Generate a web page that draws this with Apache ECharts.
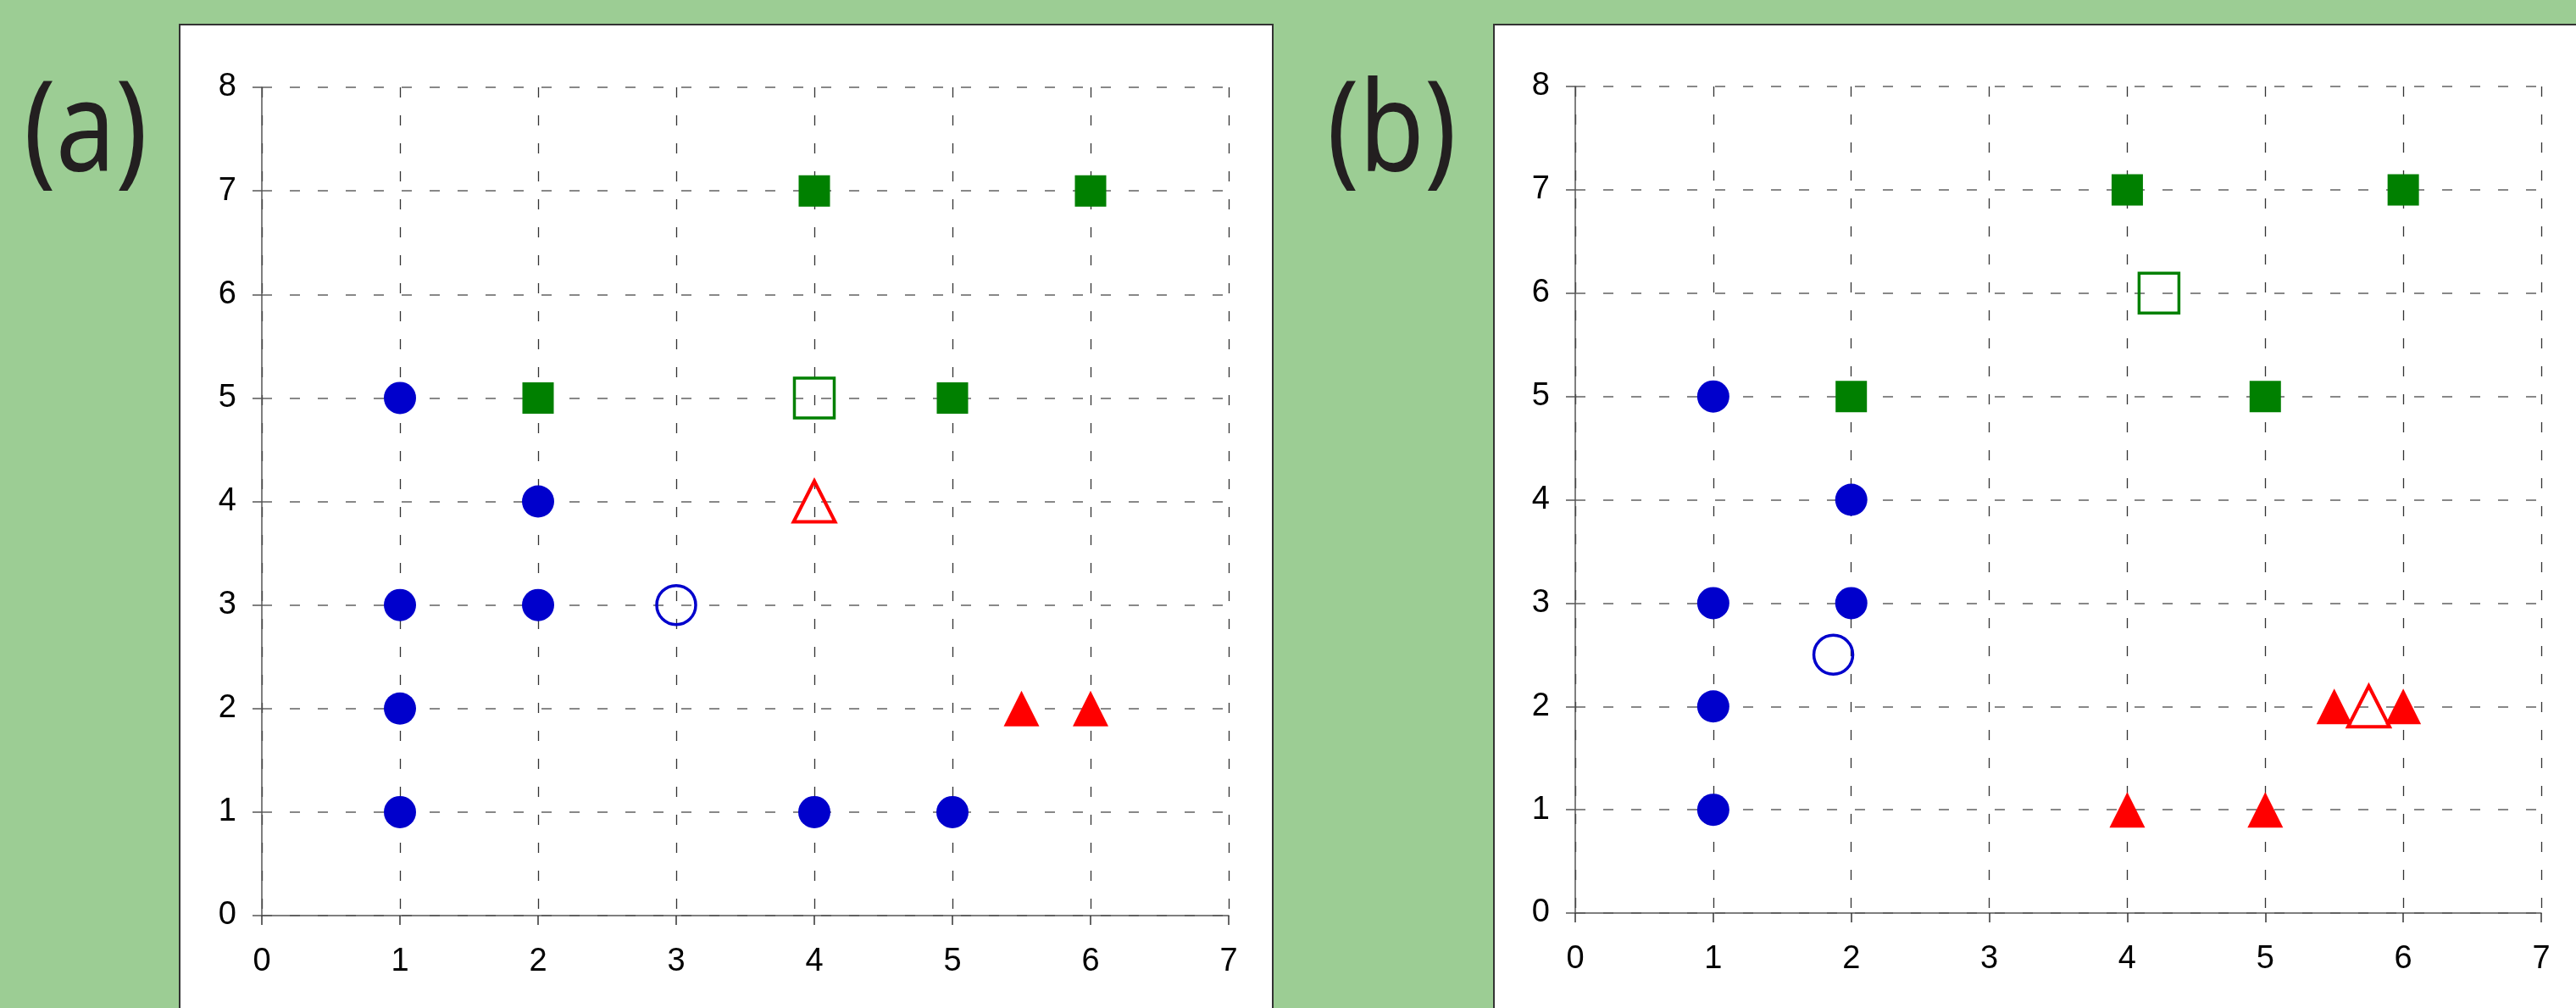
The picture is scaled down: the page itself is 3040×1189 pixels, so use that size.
<!DOCTYPE html>
<html>
<head>
<meta charset="utf-8">
<script src="https://cdn.jsdelivr.net/npm/echarts@6/dist/echarts.min.js"></script>
<style>
  html, body { margin: 0; padding: 0; background: #9ccd94; }
  #main { width: 3040px; height: 1189px; }
</style>
</head>
<body>
<div id="main"></div>
<script>
// 数据 (a)
var aBlue = [[1, 5], [2, 4], [1, 3], [2, 3], [1, 2], [1, 1], [4, 1], [5, 1]];
var aGreen = [[4, 7], [6, 7], [2, 5], [5, 5]];
var aRed = [[5.5, 2], [6, 2]];
var aBlueOpen = [[3, 3]];
var aGreenOpen = [[4, 5]];
var aRedOpen = [[4, 4]];
// 数据 (b)
var bBlue = [[1, 5], [2, 4], [1, 3], [2, 3], [1, 2], [1, 1]];
var bGreen = [[4, 7], [6, 7], [2, 5], [5, 5]];
var bRed = [[4, 1], [5, 1], [5.5, 2], [6, 2]];
var bBlueOpen = [[1.87, 2.5]];
var bGreenOpen = [[4.23, 6]];
var bRedOpen = [[5.75, 2]];

var xTicks = [0, 1, 2, 3, 4, 5, 6, 7];
var yTicks = [0, 1, 2, 3, 4, 5, 6, 7, 8];
var panelLabels = ['(a)', '(b)'];

var myChart = echarts.init(document.getElementById('main'));

var blue = '#0000cc', green = '#008000', red = '#ff0000';
var labelFont = { color: '#000', fontSize: 38, fontFamily: 'Liberation Sans, Arial, sans-serif' };

function xAxisFor(gi) {
    return {
        gridIndex: gi, type: 'value',
        min: xTicks[0], max: xTicks[xTicks.length - 1], interval: 1,
        axisLine: { show: true, onZero: false, lineStyle: { color: '#555', width: 1.5 } },
        axisTick: { show: true, length: 11, lineStyle: { color: '#333', width: 1.5 } },
        axisLabel: Object.assign({ margin: 36 }, labelFont),
        splitLine: { show: true, lineStyle: { color: '#333', width: 1.3, type: [12, 21] } }
    };
}
function yAxisFor(gi) {
    return {
        gridIndex: gi, type: 'value',
        min: yTicks[0], max: yTicks[yTicks.length - 1], interval: 1,
        axisLine: { show: true, onZero: false, lineStyle: { color: '#555', width: 1.5 } },
        axisTick: { show: true, length: 11, lineStyle: { color: '#555', width: 1.5 } },
        axisLabel: Object.assign({ margin: 30 }, labelFont),
        splitLine: { show: true, lineStyle: { color: '#888', width: 2, type: [12, 21] } }
    };
}

function filled(gi, data, symbol, size, color) {
    return {
        type: 'scatter', xAxisIndex: gi, yAxisIndex: gi,
        symbol: symbol, symbolSize: size, data: data,
        itemStyle: { color: color, opacity: 1 }
    };
}
function open(gi, data, symbol, size, color, bw) {
    return {
        type: 'scatter', xAxisIndex: gi, yAxisIndex: gi, z: 3,
        symbol: symbol, symbolSize: size, data: data,
        itemStyle: { color: 'rgba(0,0,0,0)', borderColor: color, borderWidth: bw, opacity: 1 }
    };
}

var option = {
    backgroundColor: '#9ccd94',
    animation: false,
    graphic: [
        { type: 'rect', z: -10, shape: { x: 212, y: 29, width: 1290, height: 1200 },
          style: { fill: '#fff', stroke: '#333', lineWidth: 2 } },
        { type: 'rect', z: -10, shape: { x: 1763, y: 29, width: 1300, height: 1200 },
          style: { fill: '#fff', stroke: '#333', lineWidth: 2 } },
        { type: 'text', x: 28, y: 86, scaleX: 0.85, style: { text: panelLabels[0], fill: '#231f20',
          font: '400 148px "Noto Sans", sans-serif' } },
        { type: 'text', x: 1566, y: 86, scaleX: 0.85, style: { text: panelLabels[1], fill: '#231f20',
          font: '400 148px "Noto Sans", sans-serif' } }
    ],
    grid: [
        { left: 309, top: 103, width: 1141, height: 977 },
        { left: 1859, top: 102, width: 1140, height: 975 }
    ],
    xAxis: [xAxisFor(0), xAxisFor(1)],
    yAxis: [yAxisFor(0), yAxisFor(1)],
    series: [
        filled(0, aBlue, 'circle', 38, blue),
        filled(0, aGreen, 'rect', 37, green),
        filled(0, aRed, 'triangle', [42, 42], red),
        open(0, aBlueOpen, 'circle', 46, blue, 3.5),
        open(0, aGreenOpen, 'rect', 47, green, 3.5),
        open(0, aRedOpen, 'triangle', [49, 48], red, 4),

        filled(1, bBlue, 'circle', 38, blue),
        filled(1, bGreen, 'rect', 37, green),
        filled(1, bRed, 'triangle', [42, 42], red),
        open(1, bBlueOpen, 'circle', 46, blue, 3.5),
        open(1, bGreenOpen, 'rect', 47, green, 3.5),
        open(1, bRedOpen, 'triangle', [49, 48], red, 4)
    ]
};
myChart.setOption(option);
</script>
</body>
</html>
